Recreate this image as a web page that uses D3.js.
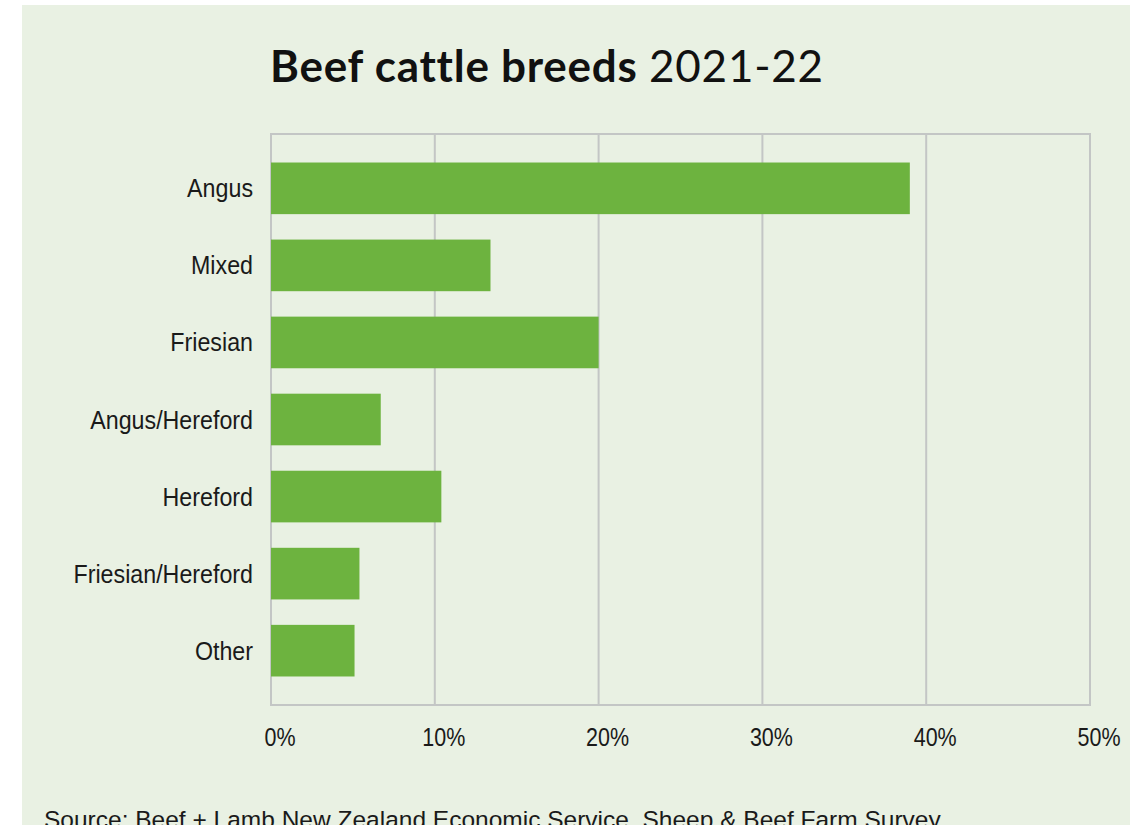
<!DOCTYPE html>
<html lang="en">
<head>
<meta charset="UTF-8">
<title>Beef cattle breeds 2021-22</title>
<script src="https://d3js.org/d3.v7.min.js"></script>
<style>
    html, body { margin: 0; padding: 0; background: #ffffff; }
    .ylab, .xlab { font-family: "Liberation Sans", Arial, sans-serif; fill: #1a1a1a; }
</style>
</head>
<body>
<div id="chart"></div>
<script>
    // data (% of beef cattle)
    const breeds = ["Angus", "Mixed", "Friesian", "Angus/Hereford", "Hereford", "Friesian/Hereford", "Other"];
    const shares = [39.0, 13.4, 20.0, 6.7, 10.4, 5.4, 5.1];
    const xTicks = [0, 10, 20, 30, 40, 50];
    const titleBold = "Beef cattle breeds";
    const titleLight = "2021-22";
    const sourceText = "Source: Beef + Lamb New Zealand Economic Service, Sheep & Beef Farm Survey";

    const width = 1138, height = 825;
    const plot = { left: 271, right: 1090, top: 134, bottom: 705 };

    const data = breeds.map((b, i) => ({ breed: b, value: shares[i] }));

    const svg = d3.select("#chart").append("svg")
        .attr("width", width)
        .attr("height", height);

    // panel background
    svg.append("rect")
        .attr("x", 22).attr("y", 5)
        .attr("width", 1108).attr("height", height)
        .attr("fill", "#e9f1e3");

    const x = d3.scaleLinear().domain([0, 50]).range([plot.left, plot.right]);
    const y = d3.scaleBand().domain(breeds)
        .range([plot.top, plot.bottom])
        .paddingInner(0.33).paddingOuter(0.37);

    // grid lines
    svg.append("g").selectAll("line")
        .data(xTicks)
        .enter().append("line")
        .attr("x1", d => x(d)).attr("x2", d => x(d))
        .attr("y1", plot.top).attr("y2", plot.bottom)
        .attr("stroke", "#c3c6c5")
        .attr("stroke-width", 2);

    // frame top and bottom
    [plot.top, plot.bottom].forEach(v => {
        svg.append("line")
            .attr("x1", plot.left - 1).attr("x2", plot.right + 1)
            .attr("y1", v).attr("y2", v)
            .attr("stroke", "#c3c6c5")
            .attr("stroke-width", 2);
    });

    // bars
    svg.append("g").selectAll("rect")
        .data(data)
        .enter().append("rect")
        .attr("x", x(0))
        .attr("y", d => y(d.breed))
        .attr("width", d => x(d.value) - x(0))
        .attr("height", y.bandwidth())
        .attr("fill", "#6db33f");

    // category labels (slightly squeezed to look condensed)
    svg.append("g").selectAll("text")
        .data(breeds)
        .enter().append("text")
        .attr("class", "ylab")
        .attr("transform", d => `translate(253,${y(d) + y.bandwidth() / 2}) scale(0.93,1)`)
        .attr("dy", "0.36em")
        .attr("text-anchor", "end")
        .style("font-size", "25px")
        .text(d => d);

    // x tick labels
    svg.append("g").selectAll("text")
        .data(xTicks)
        .enter().append("text")
        .attr("class", "xlab")
        .attr("transform", d => `translate(${x(d) + 9},746) scale(0.86,1)`)
        .attr("text-anchor", "middle")
        .style("font-size", "25px")
        .text(d => d + "%");

    // title
    const title = svg.append("text")
        .attr("x", 270)
        .attr("y", 82)
        .style("font-family", "Lato, 'Open Sans', sans-serif")
        .style("font-size", "44px")
        .attr("fill", "#111");
    title.append("tspan").style("font-weight", "bold").text(titleBold + " ");
    title.append("tspan").style("font-weight", "normal").text(titleLight);

    // spread the title to the width it has in the original
    const titleLen = title.node().getComputedTextLength();
    const nChars = (titleBold + " " + titleLight).length;
    title.style("letter-spacing", ((552 - titleLen) / nChars) + "px");

    // source (cut off by page bottom as in the original)
    svg.append("text")
        .attr("x", 44)
        .attr("y", 828)
        .style("font-family", "'Liberation Sans', Arial, sans-serif")
        .style("font-size", "24.5px")
        .attr("fill", "#1a1a1a")
        .text(sourceText);
</script>
</body>
</html>
